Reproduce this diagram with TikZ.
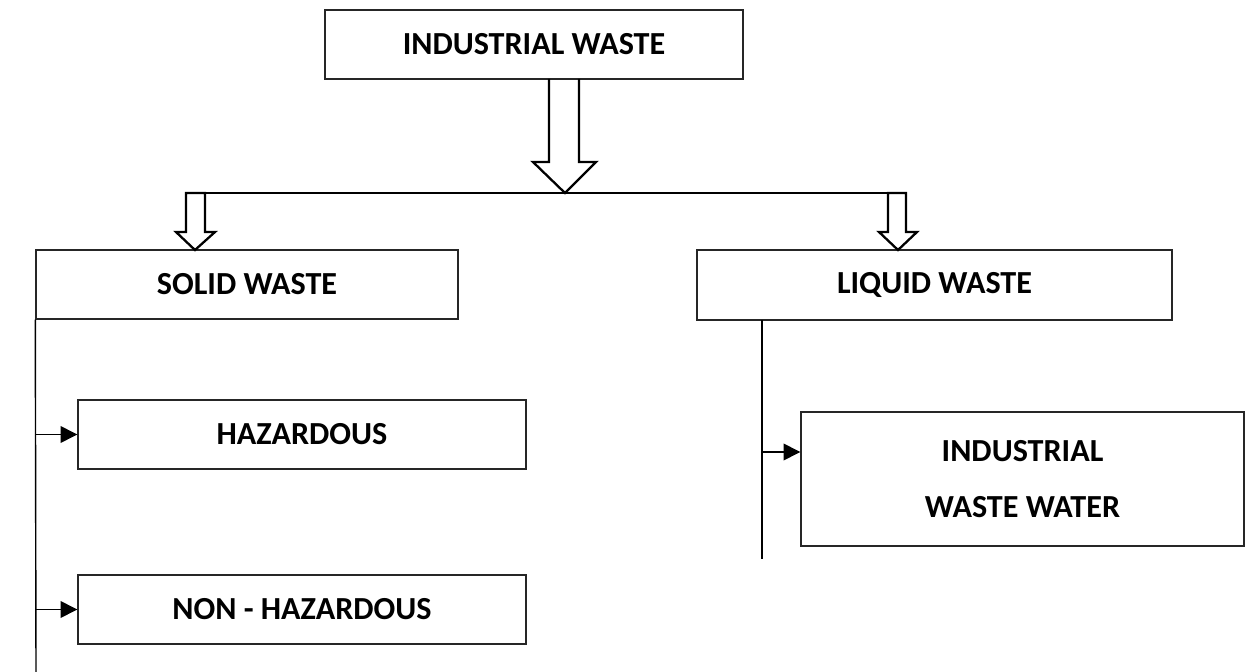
\documentclass[tikz,border=0pt]{standalone}
\usepackage{fontspec}
\setmainfont{Carlito}
\usetikzlibrary{arrows.meta,positioning}

\begin{document}
\begin{tikzpicture}[
    x=0.02cm, y=-0.02cm,
    >={Triangle[length=9.5pt,width=9.5pt]},
    box/.style={draw=black!85, line width=0.8pt, inner sep=0pt, font=\fontsize{18.3}{22}\selectfont\bfseries},
    hollow/.style={draw=black, line width=1.3pt, line join=miter},
    link/.style={draw=black, line width=0.8pt}
]
    \useasboundingbox (0,0) rectangle (1252,672);

    % boxes
    \node[box, minimum width=418*0.02cm, minimum height=69*0.02cm] (top) at (534,44.5) {INDUSTRIAL WASTE};
    \node[box, minimum width=422*0.02cm, minimum height=69*0.02cm] (solid) at (247,284.5) {SOLID WASTE};
    \node[box, minimum width=475*0.02cm, minimum height=70*0.02cm] (liquid) at (934.5,285) {LIQUID WASTE};
    \node[box, minimum width=448*0.02cm, minimum height=69*0.02cm] (haz) at (302,434.5) {HAZARDOUS};
    \node[box, minimum width=448*0.02cm, minimum height=69*0.02cm] (nonhaz) at (302,609.5) {NON - HAZARDOUS};
    \node[box, minimum width=443*0.02cm, minimum height=134*0.02cm, align=center] (water) at (1022.5,479) {INDUSTRIAL\\[10pt]WASTE WATER};

    % hollow arrows
    \coordinate (split) at (565,193);
    \draw[hollow] (549,79) -- (549,162) -- (533,162) -- (split) -- (596,162) -- (579,162) -- (579,79);
    \draw[hollow] (186,193) -- (186,232) -- (176,232) -- (195,250) -- (215,232) -- (205,232) -- (205,193) -- cycle;
    \draw[hollow] (888,193) -- (888,232) -- (879,232) -- (898,250) -- (917,232) -- (906,232) -- (906,193) -- cycle;
    \draw[link] (205,193) -- (888,193);

    % solid waste branch
    \coordinate (sbot) at (36,672);
    \draw[link] (solid.south west) -- (sbot);
    \draw[link, ->] (solid.south west |- haz.west) -- (haz.west);
    \draw[link, ->] (solid.south west |- nonhaz.west) -- (nonhaz.west);

    % liquid waste branch
    \coordinate (ltop) at (762,320);
    \coordinate (lbot) at (762,559);
    \draw[link] (ltop) -- (lbot);
    \draw[link, ->] (ltop |- 0,452) -- (water.west |- 0,452);
\end{tikzpicture}
\end{document}
